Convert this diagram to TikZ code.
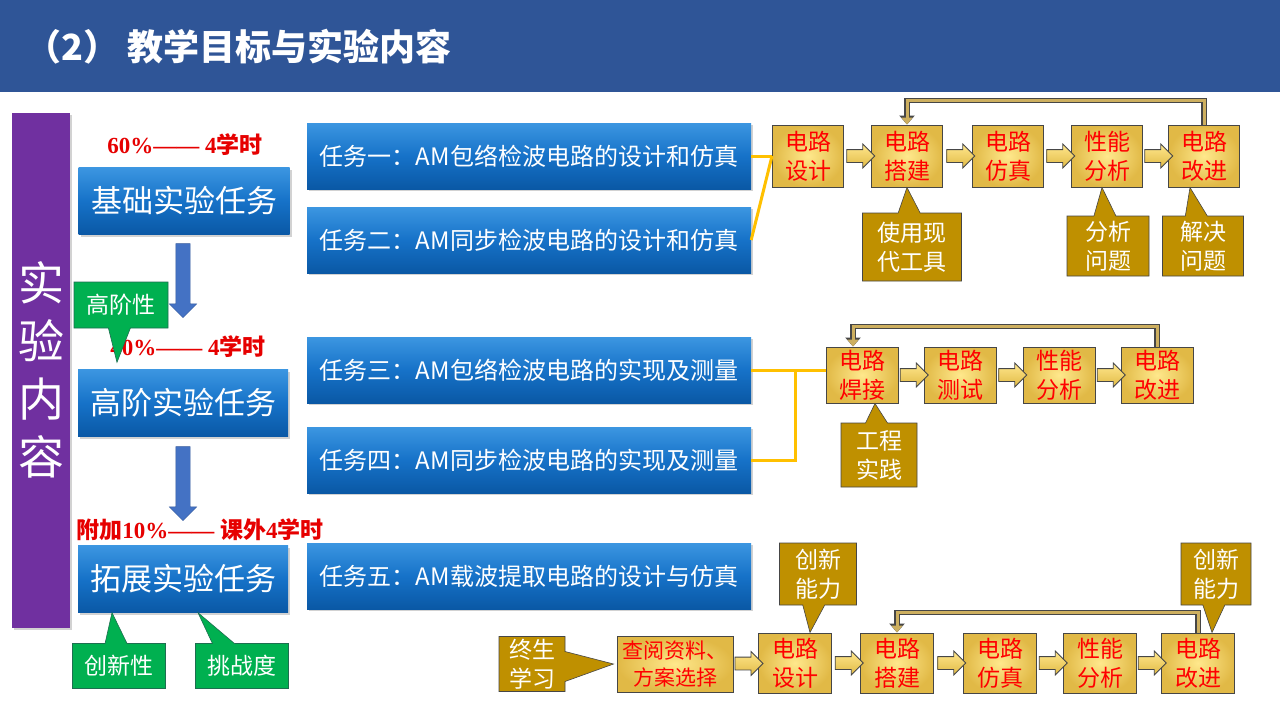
\documentclass[tikz,border=0pt]{standalone}
\usepackage{fontspec}
\setmainfont{Noto Sans CJK SC}
\newfontfamily\serifbf{Liberation Serif}
\usetikzlibrary{shadows,shapes.arrows,shapes.callouts,arrows.meta,calc}

\definecolor{titleblue}{RGB}{47,85,151}
\definecolor{barpurple}{RGB}{112,48,160}
\definecolor{boxtop}{RGB}{60,150,225}
\definecolor{boxmid}{RGB}{22,114,200}
\definecolor{boxbot}{RGB}{10,88,165}
\definecolor{arrowblue}{RGB}{68,114,196}
\definecolor{stepfill}{RGB}{255,232,140}
\definecolor{stepdark}{RGB}{225,185,70}
\definecolor{stepedge}{RGB}{70,70,70}
\definecolor{notegold}{RGB}{191,144,0}
\definecolor{notegreen}{RGB}{0,176,80}
\definecolor{greenedge}{RGB}{30,110,80}
\definecolor{linkorange}{RGB}{255,192,0}
\definecolor{fbgold}{RGB}{205,175,95}
\definecolor{pctred}{RGB}{230,0,0}

\tikzset{
  mainbox/.style={rectangle, top color=boxtop, bottom color=boxbot, middle color=boxmid,
    text=white, minimum width=211pt, minimum height=67pt, inner sep=0pt,
    font=\fontsize{31}{34}\selectfont,
    drop shadow={opacity=0.35, shadow xshift=2pt, shadow yshift=-2pt}},
  taskbox/.style={mainbox, minimum width=444pt, minimum height=66pt,
    font=\fontsize{24}{28}\selectfont},
  stepbox/.style={rectangle, draw=stepedge, line width=1pt, inner color=stepfill,
    outer color=stepdark, text=red, align=center, minimum width=71pt,
    minimum height=62pt, inner sep=0pt, font=\fontsize{23}{29}\selectfont},
  barrow/.style={single arrow, draw=stepedge, line width=0.8pt, top color=stepfill,
    bottom color=stepdark, minimum height=28pt, inner sep=6pt,
    single arrow head extend=5.5pt},
  downarrow/.style={single arrow, shape border rotate=270, fill=arrowblue,
    draw=arrowblue!80!black, minimum height=74pt, inner sep=7pt,
    single arrow head extend=6.5pt},
  goldnote/.style={rectangle callout, fill=notegold, draw=stepedge, line width=0.6pt,
    text=white, align=center, inner sep=0pt, callout pointer width=22pt,
    font=\fontsize{23}{29}\selectfont},
  greennote/.style={goldnote, fill=notegreen, draw=greenedge},
  pct/.style={text=pctred, font=\fontsize{23}{26}\selectfont\bfseries},
  linkline/.style={draw=linkorange, line width=3pt},
  fbline/.style={draw=fbgold, line width=3pt, -{Triangle[length=7pt,width=11pt]},
    preaction={draw=stepedge, line width=5.5pt, -{Triangle[length=9pt,width=15pt]}}}
}

\begin{document}
\begin{tikzpicture}[x=1pt, y=-1pt]
  \useasboundingbox (0,0) rectangle (1280,720);
  \fill[white] (0,0) rectangle (1280,720);

  % title
  \fill[titleblue] (0,0) rectangle (1280,92);
  \node[anchor=west, text=white, font=\fontsize{36}{40}\selectfont\bfseries] (title)
    at (22,47) {（2） 教学目标与实验内容};

  % left column
  \node[fill=barpurple, text=white, align=center, minimum width=58pt,
    minimum height=515pt, font=\fontsize{46}{58}\selectfont,
    drop shadow={opacity=0.35, shadow xshift=2pt, shadow yshift=-2pt}] (bar)
    at (41,370) {实\\验\\内\\容};

  \node[pct] (p1) at (185,145) {{\serifbf 60\%——~4}学时};
  \node[mainbox] (jichu) at (184,201) {基础实验任务};
  \node[downarrow] (dn1) at (183,277) {};
  \node[pct] (p2) at (188,347) {{\serifbf 40\%——~4}学时};
  \node[mainbox, minimum width=210pt] (gaojie) at (183,403) {高阶实验任务};
  \node[downarrow] (dn2) at (183,480) {};
  \node[pct] (p3) at (200,530) {附加{\serifbf 10\%——~}课外{\serifbf 4}学时};
  \node[mainbox, minimum width=210pt] (tuozhan) at (183,579) {拓展实验任务};

  \node[greennote, minimum width=94pt, minimum height=46pt,
    callout absolute pointer={([xshift=-66pt,yshift=7pt]gaojie.north)}] (gjx)
    at (121,305) {高阶性};
  \node[greennote, minimum width=93pt, minimum height=45pt,
    callout absolute pointer={([xshift=-71pt]tuozhan.south)}] (cxx)
    at (119,666) {创新性};
  \node[greennote, minimum width=93pt, minimum height=45pt,
    callout absolute pointer={([xshift=15pt]tuozhan.south)}] (tzd)
    at (242,666) {挑战度};

  % tasks
  \node[taskbox] (t1) at (529,156) {任务一：AM包络检波电路的设计和仿真};
  \node[taskbox] (t2) at (529,240) {任务二：AM同步检波电路的设计和仿真};
  \node[taskbox] (t3) at (529,370) {任务三：AM包络检波电路的实现及测量};
  \node[taskbox] (t4) at (529,460) {任务四：AM同步检波电路的实现及测量};
  \node[taskbox] (t5) at (529,576) {任务五：AM载波提取电路的设计与仿真};

  % row 1
  \node[stepbox] (sj1) at (808,156) {电路\\设计};
  \node[stepbox] (dj1) at (907,156) {电路\\搭建};
  \node[stepbox] (fz1) at (1008,156) {电路\\仿真};
  \node[stepbox] (fx1) at (1107,156) {性能\\分析};
  \node[stepbox] (gj1) at (1204,156) {电路\\改进};
  \path (sj1.east) -- node[barrow] (a11) {} (dj1.west);
  \path (dj1.east) -- node[barrow] (a12) {} (fz1.west);
  \path (fz1.east) -- node[barrow] (a13) {} (fx1.west);
  \path (fx1.east) -- node[barrow] (a14) {} (gj1.west);
  \draw[linkline] (t1.east) -- (sj1.west);
  \draw[linkline] (t2.east) -- (sj1.west);
  \draw[fbline] (gj1.north) -- ++(0,-24) -| (dj1.north);

  \node[goldnote, minimum width=99pt, minimum height=68pt,
    callout absolute pointer={(dj1.south)}] (sy) at (912,247) {使用现\\代工具};
  \node[goldnote, minimum width=82pt, minimum height=60pt,
    callout absolute pointer={([xshift=-5pt]fx1.south)}] (fxwt) at (1108,246) {分析\\问题};
  \node[goldnote, minimum width=81pt, minimum height=60pt,
    callout absolute pointer={([xshift=-14pt]gj1.south)}] (jjwt) at (1203,246) {解决\\问题};

  % row 2
  \node[stepbox, minimum width=72pt, minimum height=56pt] (hj) at (862,375) {电路\\焊接};
  \node[stepbox, minimum width=72pt, minimum height=56pt] (cs) at (960,375) {电路\\测试};
  \node[stepbox, minimum width=72pt, minimum height=56pt] (fx2) at (1059,375) {性能\\分析};
  \node[stepbox, minimum width=72pt, minimum height=56pt] (gj2) at (1157,375) {电路\\改进};
  \path (hj.east) -- node[barrow] (a21) {} (cs.west);
  \path (cs.east) -- node[barrow] (a22) {} (fx2.west);
  \path (fx2.east) -- node[barrow] (a23) {} (gj2.west);
  \coordinate (jn) at ($(t3.east)!0.6!(t3.east -| hj.west)$);
  \draw[linkline] (t3.east) -- (t3.east -| hj.west);
  \draw[linkline] (t4.east) -| (jn);
  \draw[fbline] (gj2.north) -- ++(0,-20) -| ([xshift=-9pt]hj.north);

  \node[goldnote, minimum width=76pt, minimum height=64pt,
    callout absolute pointer={([xshift=13pt]hj.south)}] (gcsj) at (879,455) {工程\\实践};

  % row 3
  \node[stepbox, minimum width=116pt, minimum height=56pt,
    font=\fontsize{21}{27}\selectfont] (cy) at (675,664) {查阅资料、\\方案选择};
  \node[stepbox, minimum width=73pt, minimum height=60pt] (sj3) at (795,663) {电路\\设计};
  \node[stepbox, minimum width=73pt, minimum height=60pt] (dj3) at (897,663) {电路\\搭建};
  \node[stepbox, minimum width=73pt, minimum height=60pt] (fz3) at (1000,663) {电路\\仿真};
  \node[stepbox, minimum width=73pt, minimum height=60pt] (fx3) at (1100,663) {性能\\分析};
  \node[stepbox, minimum width=73pt, minimum height=60pt] (gj3) at (1198,663) {电路\\改进};
  \path (cy.east) -- node[barrow] (a31) {} (sj3.west);
  \path (sj3.east) -- node[barrow] (a32) {} (dj3.west);
  \path (dj3.east) -- node[barrow] (a33) {} (fz3.west);
  \path (fz3.east) -- node[barrow] (a34) {} (fx3.west);
  \path (fx3.east) -- node[barrow] (a35) {} (gj3.west);
  \draw[fbline] (gj3.north) -- ++(0,-20) -| (dj3.north);

  \node[goldnote, minimum width=66pt, minimum height=55pt, callout pointer width=30pt,
    callout absolute pointer={([xshift=-3pt]cy.west)}] (zsxx) at (532,664) {终生\\学习};
  \node[goldnote, minimum width=77pt, minimum height=62pt,
    callout absolute pointer={([xshift=15pt]sj3.north)}] (cx1) at (818,574) {创新\\能力};
  \node[goldnote, minimum width=70pt, minimum height=62pt,
    callout absolute pointer={([xshift=14pt]gj3.north)}] (cx2) at (1216,574) {创新\\能力};
\end{tikzpicture}
\end{document}
